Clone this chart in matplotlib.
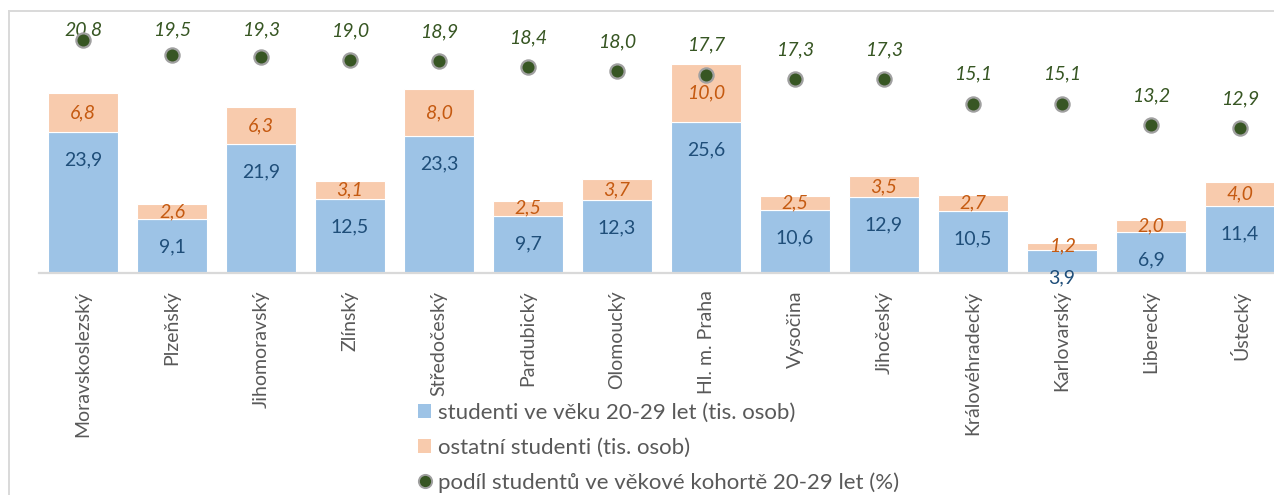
import numpy as np
import matplotlib
matplotlib.use("Agg")
import matplotlib.pyplot as plt
from matplotlib.patches import Patch
from matplotlib.lines import Line2D

plt.rcParams['font.family'] = ['Lato', 'DejaVu Sans']

# data
kraje = ["Moravskoslezský", "Plzeňský", "Jihomoravský", "Zlínský", "Středočeský",
         "Pardubický", "Olomoucký", "Hl. m. Praha", "Vysočina", "Jihočeský",
         "Královéhradecký", "Karlovarský", "Liberecký", "Ústecký"]
studenti_20_29 = [23.9, 9.1, 21.9, 12.5, 23.3, 9.7, 12.3, 25.6, 10.6, 12.9, 10.5, 3.9, 6.9, 11.4]
ostatni = [6.8, 2.6, 6.3, 3.1, 8.0, 2.5, 3.7, 10.0, 2.5, 3.5, 2.7, 1.2, 2.0, 4.0]
podil = [20.8, 19.5, 19.3, 19.0, 18.9, 18.4, 18.0, 17.7, 17.3, 17.3, 15.1, 15.1, 13.2, 12.9]

c_blue = "#9DC3E6"
c_orange = "#F8CBAD"
c_green = "#375623"
c_grey = "#595959"


def fmt(v):
    return f"{v:.1f}".replace(".", ",")


W, H = 1274, 495
fig = plt.figure(figsize=(W / 100, H / 100), dpi=100)

# axes sized in pixels so that the category axis runs past the right edge like in the source
base_y = 272.5
top_y = 22
ax = fig.add_axes([38.5 / W, (H - base_y) / H, 1246 / W, (base_y - top_y) / H])
ax2 = ax.twinx()

x = np.arange(len(kraje))
ax.bar(x, studenti_20_29, width=0.79, color=c_blue, edgecolor="white", linewidth=0.8)
ax.bar(x, ostatni, width=0.79, bottom=studenti_20_29, color=c_orange,
       edgecolor="white", linewidth=0.8)

ax.set_xlim(-0.5, len(kraje) - 0.5)
ax.set_ylim(0, (base_y - top_y) / 5.86)
ax2.set_ylim(0, (base_y - top_y) / 11.17)

ax2.scatter(x, podil, s=105, color=c_green, edgecolors="#A0A0A0", linewidths=1.6, zorder=5)

# labels
for i in range(len(kraje)):
    ax.annotate(fmt(studenti_20_29[i]), (i, studenti_20_29[i]), xytext=(0, -20),
                textcoords="offset points", ha="center", va="center",
                fontsize=14, color="#1F4E79", annotation_clip=False)
    ax.text(i, studenti_20_29[i] + ostatni[i] / 2, fmt(ostatni[i]), ha="center", va="center",
            fontsize=14, color="#C55A11", style="italic")
    y_lab = min(podil[i] + 29.5 / 11.17, (base_y - 30) / 11.17)
    ax2.text(i, y_lab, fmt(podil[i]), ha="center", va="center",
             fontsize=14, color=c_green, style="italic")

for a in (ax, ax2):
    for s in ("top", "right", "left"):
        a.spines[s].set_visible(False)
    a.set_yticks([])
ax2.spines["bottom"].set_visible(False)
ax.spines["bottom"].set_color("#D9D9D9")
ax.spines["bottom"].set_linewidth(1.6)

ax.set_xticks(x)
ax.set_xticklabels(kraje, rotation=90, fontsize=14, color=c_grey, va="top")
ax.tick_params(axis="x", length=0, pad=13)

handles = [
    Patch(facecolor=c_blue, edgecolor="none"),
    Patch(facecolor=c_orange, edgecolor="none"),
    Line2D([], [], marker="o", linestyle="none", markersize=9.5, markerfacecolor=c_green,
           markeredgecolor="#A0A0A0", markeredgewidth=1.4),
]
labels = ["studenti ve věku 20-29 let (tis. osob)", "ostatní studenti (tis. osob)",
          "podíl studentů ve věkové kohortě 20-29 let (%)"]
fig.legend(handles, labels, loc="upper left", bbox_to_anchor=(418 / W, 1 - 403 / H),
           frameon=False, fontsize=16, labelcolor=c_grey, handlelength=0.6,
           handleheight=0.6, handletextpad=0.3, labelspacing=0.66, borderpad=0,
           borderaxespad=0)

# chart border (only left and top visible in the crop)
fig.add_artist(Line2D([9 / W, 9 / W], [0, 1 - 11 / H], color="#D9D9D9", linewidth=1.4))
fig.add_artist(Line2D([9 / W, 1], [1 - 11 / H, 1 - 11 / H], color="#D9D9D9", linewidth=1.4))

fig.savefig("out.png", dpi=100)
